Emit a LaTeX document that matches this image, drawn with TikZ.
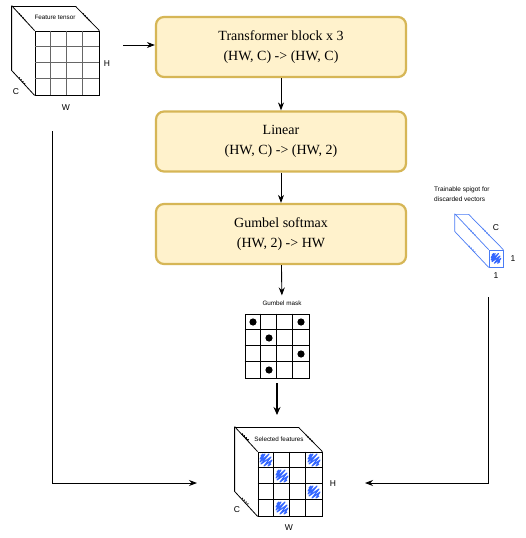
\documentclass[tikz,border=0pt]{standalone}
\usepackage{fontspec}
\setmainfont{Liberation Sans}
\newfontfamily\boxfont{Liberation Serif}
\usetikzlibrary{arrows.meta,positioning}
\definecolor{boxfill}{HTML}{FFF2CC}
\definecolor{boxline}{HTML}{D6B656}
\definecolor{scribblue}{HTML}{3366FF}
\definecolor{spigotblue}{HTML}{4A7CF5}
\tikzstyle{block}=[draw=boxline,fill=boxfill,line width=2.2pt,rounded corners=8pt,
minimum width=250pt,minimum height=60pt,align=center,
font=\boxfont\fontsize{14}{20}\selectfont]
\tikzstyle{arr}=[-{Stealth[length=8pt,width=6pt]},line width=0.9pt]
\tikzstyle{thickarr}=[-{Stealth[length=8pt,width=7pt]},line width=1.8pt]
\tikzstyle{face}=[draw,line width=0.8pt,minimum size=64pt,inner sep=0pt]
\tikzstyle{lab}=[font=\fontsize{8.5}{9}\selectfont,inner sep=1pt]
\tikzstyle{tiny}=[font=\fontsize{6.3}{7}\selectfont,inner sep=1pt]
\tikzstyle{dotmark}=[line width=1.2pt,dash pattern=on 1pt off 1.6pt]
\newcommand{\bluescribble}[2]{%
  \draw[scribblue,line width=1.1pt,line join=round,shift={(#1,#2)}]
    (-5,-4) -- (-3,-6) -- (-6,-1) -- (-1,-6) -- (-6,2) -- (3,-6) -- (-5,4)
    -- (5,-3) -- (-2,6) -- (6,0) -- (2,6) -- (5,4);}

\begin{document}
\begin{tikzpicture}[x=1pt,y=-1pt]
  \useasboundingbox[fill=white] (0,0) rectangle (526,538);

  % feature tensor
  \node[face] (ft) at (67,63) {};
  \draw[line width=0.8pt] (ft.south west) -- ++(-23,-25) -- ++(0,-64) -- ++(64,0) -- (ft.north east);
  \draw[line width=0.8pt] (ft.north west) -- ++(-23,-25);
  \foreach \i in {1,2,3} {
    \draw[black!60,line width=0.6pt] ([xshift=16*\i]ft.north west) -- ([xshift=16*\i]ft.south west);
    \draw[black!60,line width=0.6pt] ([yshift=-16*\i]ft.north west) -- ([yshift=-16*\i]ft.north east);
  }
  \draw[dotmark] (19,13.5) -- (26,21);
  \draw[dotmark] (83,13.5) -- (90,21);
  \draw[dotmark] (19,77.5) -- (26,85);
  \node[tiny] (ftname) at (55,17) {Feature tensor};
  \node[lab] (fth) at (107,64) {H};
  \node[lab] (ftc) at (16,92) {C};
  \node[lab] (ftw) at (66,108) {W};

  % pipeline
  \node[block] (tf) at (281,47) {Transformer block x 3\\(HW, C) -> (HW, C)};
  \node[block] (lin) at (281,141.5) {Linear\\(HW, C) -> (HW, 2)};
  \node[block] (gs) at (281,234) {Gumbel softmax\\(HW, 2) -> HW};

  % gumbel mask
  \node[tiny] (gmname) at (282,303) {Gumbel mask};
  \node[face] (mask) at (277,346) {};
  \foreach \i in {1,2,3} {
    \draw[line width=0.8pt] ([xshift=16*\i]mask.north west) -- ([xshift=16*\i]mask.south west);
    \draw[line width=0.8pt] ([yshift=-16*\i]mask.north west) -- ([yshift=-16*\i]mask.north east);
  }
  \foreach \c/\r in {1/1,4/1,2/2,4/3,2/4}
    \fill (245+16*\c-8,314+16*\r-8) circle (3.6);

  % selected features
  \node[face] (sf) at (290,484) {};
  \draw[line width=0.8pt] (sf.south west) -- ++(-23,-25) -- ++(0,-64) -- ++(64,0) -- (sf.north east);
  \draw[line width=0.8pt] (sf.north west) -- ++(-23,-25);
  \foreach \i in {1,2,3} {
    \draw[line width=0.7pt] ([xshift=16*\i]sf.north west) -- ([xshift=16*\i]sf.south west);
    \draw[line width=0.7pt] ([yshift=-16*\i]sf.north west) -- ([yshift=-16*\i]sf.north east);
  }
  \foreach \c/\r in {1/1,4/1,2/2,4/3,2/4}
    \bluescribble{258+16*\c-8}{452+16*\r-8}
  \draw[dotmark] (242,434) -- (249,441);
  \draw[dotmark] (306,435) -- (313,442);
  \draw[dotmark] (242,498) -- (249,505);
  \node[tiny] (sfname) at (279,439) {Selected features};
  \node[lab] (sfh) at (333,484) {H};
  \node[lab] (sfc) at (237,510) {C};
  \node[lab] (sfw) at (289,528) {W};

  % spigot
  \node[draw=spigotblue,line width=0.7pt,minimum width=14pt,minimum height=17pt,inner sep=0pt] (sp) at (496,258.5) {};
  \draw[spigotblue,line width=0.7pt] (sp.south west) -- ++(-34,-36) -- ++(0,-17) -- ++(14,0) -- (sp.north east);
  \draw[spigotblue,line width=0.7pt] (sp.north west) -- ++(-34,-36);
  \draw[spigotblue,dotmark] (469,229) -- (475,235);
  \draw[spigotblue,dotmark] (469,246) -- (475,252);
  \draw[spigotblue,dotmark] (483,229) -- (489,235);
  \begin{scope}[scale=0.8]
    \bluescribble{620}{323}
  \end{scope}
  \node[font=\fontsize{6.5}{10}\selectfont,align=left,anchor=north west,inner sep=0pt] (spname) at (434,187) {Trainable spigot for\\discarded vectors};
  \node[lab] (spc) at (496,228) {C};
  \node[lab] (sp1) at (513,259) {1};
  \node[lab] (sp2) at (496,276) {1};

  % connectors
  \coordinate (ftout) at (123,45);
  \coordinate (ftdown) at (52,131);
  \coordinate (sfleft) at (197,483);
  \coordinate (spdown) at (488,297);
  \coordinate (sfright) at (365,483);
  \coordinate (sftop) at (277,415);
  \draw[arr] (ftout) -- (ftout -| tf.west);
  \draw[arr] (tf) -- (lin);
  \draw[arr] (lin) -- (gs);
  \draw[arr, shorten >=4pt] (gs) -- (gmname);
  \draw[thickarr] ([yshift=-5pt]mask.south) -- (sftop);
  \draw[arr] (ftdown) |- (sfleft);
  \draw[arr] (spdown) |- (sfright);
\end{tikzpicture}
\end{document}
